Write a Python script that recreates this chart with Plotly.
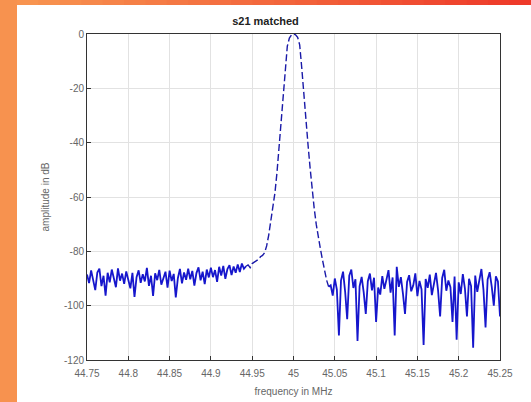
import numpy as np
import plotly.graph_objects as go

# Sweep: 44.75 .. 45.25 MHz in 0.0025 MHz steps (201 points)
freq_start = 44.75
freq_step = 0.0025

left_noise_db = [
    -88.5, -91.7, -87.0, -90.9, -94.3, -87.8, -86.4, -92.8, -89.0, -96.3,
    -87.9, -91.4, -86.7, -89.9, -93.2, -86.3, -90.8, -88.2, -92.0, -87.4,
    -90.2, -93.6, -87.9, -96.8, -89.5, -87.0, -91.6, -88.4, -91.1, -86.1,
    -92.7, -89.0, -96.4, -88.1, -90.6, -86.8, -92.3, -89.8, -87.5, -93.4,
    -87.1, -90.9, -88.3, -97.0, -89.9, -86.5, -91.8, -87.8, -90.5, -86.4,
    -90.3, -87.2, -92.6, -88.0, -85.9, -90.7, -87.5, -92.1, -86.7, -89.6,
    -86.0, -89.5, -86.9, -91.2, -85.7, -88.9, -85.4, -90.1, -86.5, -85.1,
    -88.7, -85.6, -87.9, -84.8, -87.6, -84.5, -86.4,
]

passband_db = [
    -85.5, -85.0, -86.0, -84.5, -84.0, -83.5, -83.0, -82.0, -81.5, -80.5,
    -78.0, -74.0, -69.0, -64.0, -58.5, -51.0, -42.0, -33.0, -24.0, -13.0,
    -4.5, -1.5, -0.4, 0.0, -0.3, -1.2, -4.0, -12.5, -23.0, -32.0,
    -40.5, -49.0, -57.5, -64.0, -70.0, -75.0, -79.0, -83.0, -87.0, -90.5,
    -93.0,
]

right_noise_db = [
    -92.5, -96.3, -90.0, -94.1, -111.0, -90.8, -87.5, -94.8, -105.0, -89.0,
    -86.7, -93.5, -90.3, -113.0, -92.9, -89.4, -95.1, -103.0, -91.0, -88.2,
    -94.4, -89.7, -106.0, -93.3, -95.9, -89.1, -93.8, -90.5, -86.9, -95.2,
    -89.6, -111.0, -85.7, -93.1, -89.5, -95.6, -103.0, -91.3, -88.8, -94.7,
    -92.5, -88.1, -96.5, -90.9, -94.0, -114.5, -90.2, -93.4, -88.6, -96.1,
    -91.2, -87.9, -94.3, -104.0, -89.8, -86.8, -94.5, -90.7, -93.2, -106.0,
    -89.3, -112.5, -91.4, -95.7, -88.4, -93.6, -104.0, -90.1, -92.8, -115.5,
    -88.9, -94.9, -90.6, -86.5, -94.2, -108.0, -90.4, -87.7, -93.0, -100.0,
    -89.2, -91.1, -104.0,
]

n_left = len(left_noise_db)
n_pass = len(passband_db)
n_right = len(right_noise_db)
freq_all = np.round(freq_start + freq_step * np.arange(n_left + n_pass + n_right), 4)
# segments share their end points so the trace is continuous
f_left = freq_all[:n_left + 1]
y_left = left_noise_db + passband_db[:1]
f_pass = freq_all[n_left:n_left + n_pass]
y_pass = passband_db
f_right = freq_all[n_left + n_pass - 1:]
y_right = passband_db[-1:] + right_noise_db

x_tick_vals = [44.75, 44.8, 44.85, 44.9, 44.95, 45.0, 45.05, 45.1, 45.15, 45.2, 45.25]
x_tick_text = ["44.75", "44.8", "44.85", "44.9", "44.95", "45", "45.05", "45.1", "45.15", "45.2", "45.25"]
y_tick_vals = [0, -20, -40, -60, -80, -100, -120]
y_tick_text = ["0", "-20", "-40", "-60", "-80", "-100", "-120"]

W, H = 531, 402
ML, MR, MT, MB = 87, 31, 34, 42
pw, ph = W - ML - MR, H - MT - MB

def px(x):
    return (x - ML) / pw

def py(y):
    return (H - MB - y) / ph

line_col = "#1616cc"
fig = go.Figure()
fig.add_trace(go.Scatter(x=f_left, y=y_left, mode="lines",
                         line=dict(color=line_col, width=1.8),
                         showlegend=False, hoverinfo="skip"))
fig.add_trace(go.Scatter(x=f_pass, y=y_pass, mode="lines",
                         line=dict(color="#1a1aa8", width=1.4, dash="7px,3px"),
                         showlegend=False, hoverinfo="skip"))
fig.add_trace(go.Scatter(x=f_right, y=y_right, mode="lines",
                         line=dict(color=line_col, width=1.8),
                         showlegend=False, hoverinfo="skip"))

shapes = []
# white panel
shapes.append(dict(type="rect", xref="paper", yref="paper", layer="below",
                   x0=px(17), x1=px(W + 2), y0=py(H + 2), y1=py(5),
                   fillcolor="white", line=dict(width=0)))
# top orange-to-red gradient strip
n = 24
c0 = np.array([248, 148, 80])
c1 = np.array([238, 58, 42])
for k in range(n):
    t = k / (n - 1)
    c = (c0 * (1 - t) + c1 * t).astype(int)
    xa = 17 + (W - 17) * k / n
    xb = 17 + (W - 17) * (k + 1) / n + 1
    shapes.append(dict(type="rect", xref="paper", yref="paper", layer="below",
                       x0=px(xa), x1=px(xb), y0=py(5), y1=py(-2),
                       fillcolor=f"rgb({c[0]},{c[1]},{c[2]})", line=dict(width=0)))

font_fam = "Liberation Sans, Arial, sans-serif"
fig.update_layout(
    width=W, height=H,
    margin=dict(l=ML, r=MR, t=MT, b=MB, pad=0, autoexpand=False),
    paper_bgcolor="#f7924f",
    plot_bgcolor="white",
    shapes=shapes,
    title=dict(text="<b>s21 matched</b>", x=px((ML + W - MR) / 2), xanchor="center",
               y=1 - 21 / H, yanchor="middle",
               font=dict(family=font_fam, size=11, color="#222")),
    font=dict(family=font_fam, size=10, color="#555"),
    xaxis=dict(
        range=[44.75, 45.25], tickvals=x_tick_vals, ticktext=x_tick_text,
        showgrid=True, gridcolor="#e2e2e2", gridwidth=1,
        showline=True, linecolor="#333", linewidth=1, mirror=True,
        ticks="inside", ticklen=4, tickcolor="#333",
        ticklabelstandoff=4, automargin=False,
        zeroline=False,
        tickfont=dict(size=10, color="#666"),
        title=dict(text="frequency in MHz", standoff=9, font=dict(size=10, color="#666")),
    ),
    yaxis=dict(
        range=[-120, 0], tickvals=y_tick_vals, ticktext=y_tick_text,
        showgrid=True, gridcolor="#e2e2e2", gridwidth=1,
        showline=True, linecolor="#333", linewidth=1, mirror=True,
        ticks="inside", ticklen=4, tickcolor="#333",
        automargin=False,
        zeroline=False,
        tickfont=dict(size=10, color="#666"),
        title=dict(text="amplitude in dB", standoff=12, font=dict(size=10, color="#666")),
    ),
)

fig.write_html("out.html", config={"displayModeBar": False},
               post_script="document.body.style.margin='0';document.body.style.overflow='hidden';")
